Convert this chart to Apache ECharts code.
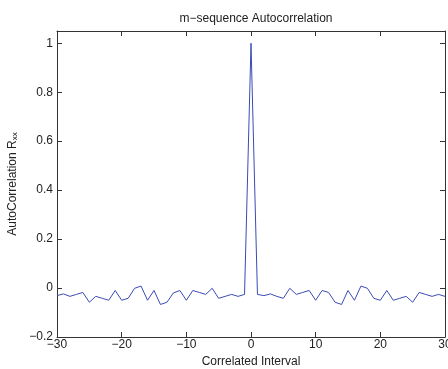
<!DOCTYPE html>
<html><head><meta charset="utf-8">
<script src="https://cdn.jsdelivr.net/npm/echarts@6/dist/echarts.min.js"></script>
<style>html,body{margin:0;padding:0;background:#fff}#c{width:448px;height:369px}</style>
</head><body><div id="c"></div>
<script>
var lags = [-30,-29,-28,-27,-26,-25,-24,-23,-22,-21,-20,-19,-18,-17,-16,-15,-14,-13,-12,-11,-10,-9,-8,-7,-6,-5,-4,-3,-2,-1,0,1,2,3,4,5,6,7,8,9,10,11,12,13,14,15,16,17,18,19,20,21,22,23,24,25,26,27,28,29,30];
var rxx = [-0.031,-0.024,-0.034,-0.026,-0.018,-0.058,-0.034,-0.042,-0.050,-0.010,-0.050,-0.042,-0.001,0.008,-0.050,-0.010,-0.067,-0.058,-0.020,-0.010,-0.050,-0.010,-0.018,-0.026,-0.001,-0.042,-0.034,-0.026,-0.034,-0.026,1.0,-0.026,-0.031,-0.024,-0.034,-0.042,-0.001,-0.026,-0.018,-0.010,-0.050,-0.010,-0.018,-0.058,-0.067,-0.010,-0.050,0.008,-0.001,-0.042,-0.050,-0.010,-0.050,-0.042,-0.034,-0.058,-0.018,-0.026,-0.034,-0.026,-0.034];
var xTicks = [-30,-20,-10,0,10,20,30];
var yTicks = [-0.2,0,0.2,0.4,0.6,0.8,1];
var titleText = 'm\u2212sequence Autocorrelation';
var xName = 'Correlated Interval';
var yNameMain = 'AutoCorrelation R';
var yNameSub = 'xx';

function fmt(v){ var s = String(Math.round(v*10)/10); return s.replace('-', '\u2212'); }
var FONT = 'Liberation Sans';
var axisCol = '#333';
var chart = echarts.init(document.getElementById('c'));
var data = lags.map(function(x,i){ return [x, rxx[i]]; });
function common(){ return {
  axisLine:{show:true, onZero:false, lineStyle:{color:axisCol, width:1}},
  axisTick:{show:true, inside:true, length:5, lineStyle:{color:axisCol}},
  splitLine:{show:false}
};}
chart.setOption({
  animation:false,
  title:{text:titleText, left:251, top:8, textAlign:'center',
    textStyle:{fontFamily:FONT, fontSize:12, fontWeight:'normal', color:'#222'}},
  grid:{left:57, right:3, top:31, bottom:32, containLabel:false, outerBoundsMode:'none'},
  xAxis:[
    Object.assign({type:'value', position:'bottom', min:-30, max:30, interval:10,
      name:xName, nameLocation:'middle', nameGap:18,
      nameTextStyle:{fontFamily:FONT, fontSize:12, color:'#222'},
      axisLabel:{fontFamily:FONT, fontSize:12, color:'#222', margin:2, formatter:fmt}}, common()),
    Object.assign({type:'value', position:'top', min:-30, max:30, interval:10,
      axisLabel:{show:false}}, common())
  ],
  yAxis:[
    Object.assign({type:'value', position:'left', min:-0.2, max:1.05, interval:0.2,
      name:'{a|'+yNameMain+'}{s|'+yNameSub+'}', nameLocation:'middle', nameGap:36, nameRotate:90,
      nameTextStyle:{fontFamily:FONT, fontSize:12, color:'#222',
        rich:{a:{fontFamily:FONT, fontSize:12, color:'#222', verticalAlign:'bottom', lineHeight:16},
              s:{fontFamily:FONT, fontSize:8, color:'#222', verticalAlign:'bottom', lineHeight:10}}},
      axisLabel:{fontFamily:FONT, fontSize:12, color:'#222', margin:4, showMaxLabel:false, formatter:fmt}}, common()),
    Object.assign({type:'value', position:'right', min:-0.2, max:1.05, interval:0.2,
      axisLabel:{show:false}}, common())
  ],
  series:[{type:'line', data:data, xAxisIndex:0, yAxisIndex:0, showSymbol:false, symbol:'none',
    lineStyle:{color:'#3a4ab5', width:1}}]
});
</script></body></html>
